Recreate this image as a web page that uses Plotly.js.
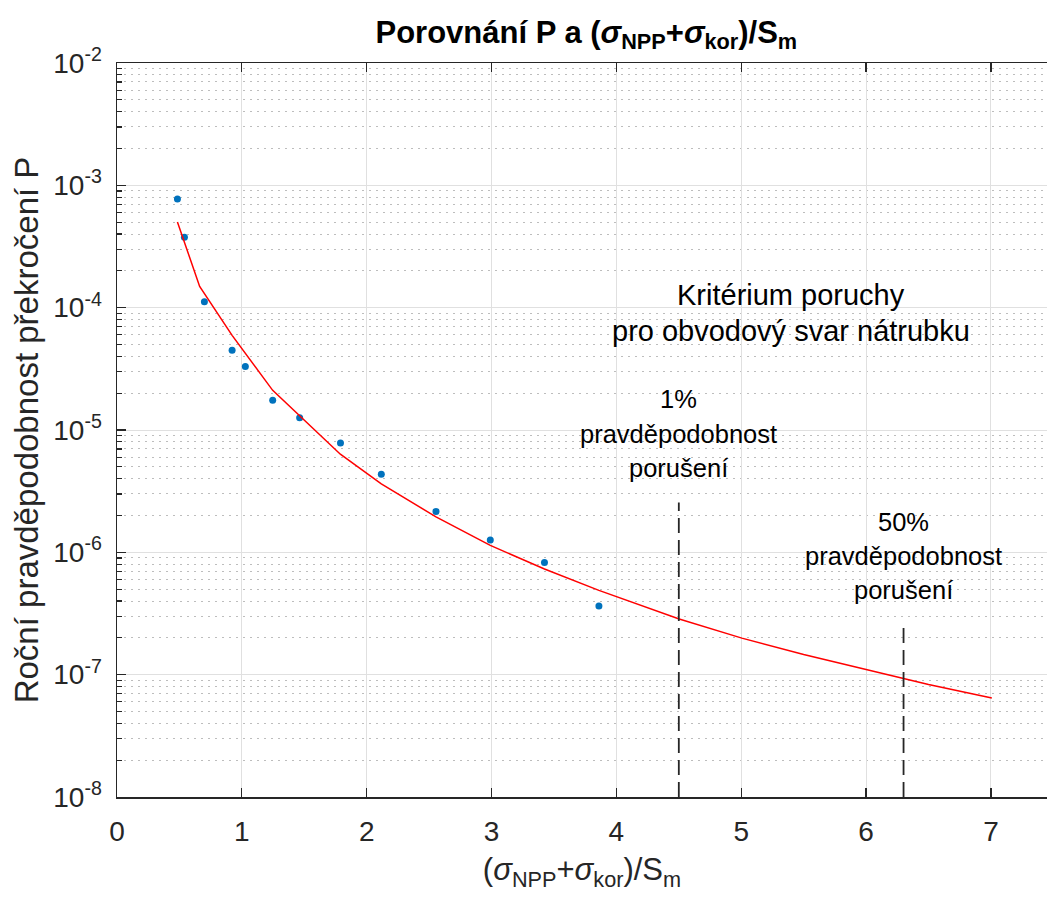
<!DOCTYPE html>
<html>
<head>
<meta charset="utf-8">
<script src="https://cdn.plot.ly/plotly-3.0.1.min.js"></script>
<style>html,body{margin:0;padding:0;background:#fff;}#chart{width:1047px;height:899px;}</style>
</head>
<body>
<div id="chart"></div>
<script>
// Data points (blue dots)
const pointX = [0.484, 0.540, 0.700, 0.922, 1.028, 1.247, 1.463, 1.790, 2.117, 2.555, 2.990, 3.424, 3.860];
const pointP = [7.74e-4, 3.76e-4, 1.12e-4, 4.48e-5, 3.30e-5, 1.75e-5, 1.26e-5, 7.83e-6, 4.34e-6, 2.16e-6, 1.26e-6, 8.26e-7, 3.64e-7];

// Fitted curve (red line)
const curveX = [0.484, 0.662, 0.922, 1.247, 1.789, 2.117, 2.555, 2.990, 3.424, 3.860, 4.503, 5.005, 5.5, 6.006, 6.30, 6.5, 7.007];
const curveP = [5.02e-4, 1.49e-4, 5.94e-5, 2.11e-5, 6.34e-6, 3.62e-6, 1.95e-6, 1.14e-6, 7.3e-7, 4.89e-7, 2.85e-7, 1.99e-7, 1.46e-7, 1.10e-7, 9.2e-8, 8.3e-8, 6.44e-8];

// Criterion lines
const crit1X = [4.5, 4.5];
const crit1P = [1e-8, 2.55e-6];
const crit2X = [6.3, 6.3];
const crit2P = [1e-8, 2.55e-7];

// Tick labels
const xTickVals = [0, 1, 2, 3, 4, 5, 6, 7];
const xTickText = ['0', '1', '2', '3', '4', '5', '6', '7'];
const yTickVals = [1e-8, 1e-7, 1e-6, 1e-5, 1e-4, 1e-3, 1e-2];
const yTickText = ['10<sup>-8</sup>', '10<sup>-7</sup>', '10<sup>-6</sup>', '10<sup>-5</sup>', '10<sup>-4</sup>', '10<sup>-3</sup>', '10<sup>-2</sup>'];

const FONT = 'Liberation Sans, Arial, Helvetica, sans-serif';
const AX = '#262626';

const traces = [
  {x: pointX, y: pointP, type: 'scatter', mode: 'markers',
   marker: {color: '#0072BD', size: 7}, hoverinfo: 'skip', showlegend: false},
  {x: curveX, y: curveP, type: 'scatter', mode: 'lines',
   line: {color: '#FF0000', width: 1.5}, hoverinfo: 'skip', showlegend: false},
  {x: crit1X, y: crit1P, type: 'scatter', mode: 'lines',
   line: {color: AX, width: 1.8, dash: '15px,7px'}, hoverinfo: 'skip', showlegend: false},
  {x: crit2X, y: crit2P, type: 'scatter', mode: 'lines',
   line: {color: AX, width: 1.8, dash: '15px,7px'}, hoverinfo: 'skip', showlegend: false}
];

function ann(x, ly, text, size) {
  return {x: x, y: ly, xref: 'x', yref: 'y', text: text, showarrow: false,
          xanchor: 'center', yanchor: 'middle',
          font: {family: FONT, size: size, color: '#000'}};
}
const lg = py => -2 - (py - 63.4) / 122.3;

const layout = {
  width: 1047, height: 899,
  margin: {l: 117, r: 0, t: 63, b: 102},
  paper_bgcolor: '#fff', plot_bgcolor: '#fff',
  font: {family: FONT, color: AX},
  title: {
    text: '<b>Porovnání P a (<i>σ</i><sub>NPP</sub>+<i>σ</i><sub>kor</sub>)/S<sub>m</sub></b>',
    font: {family: FONT, size: 31, color: '#000'},
    x: 0.560, xanchor: 'center', y: 1 - 32/899, yanchor: 'middle'
  },
  xaxis: {
    type: 'linear', range: [0, 7.449],
    tickvals: xTickVals, ticktext: xTickText,
    ticks: 'inside', ticklen: 9, tickwidth: 1.2, tickcolor: AX,
    showline: true, linecolor: AX, linewidth: 1.5, mirror: 'ticks',
    showgrid: true, gridcolor: '#e0e0e0', gridwidth: 1,
    zeroline: false,
    tickfont: {family: FONT, size: 28, color: AX},
    ticklabelstandoff: 9,
    title: {text: '(<i>σ</i><sub>NPP</sub>+<i>σ</i><sub>kor</sub>)/S<sub>m</sub>',
            font: {family: FONT, size: 31, color: AX}, standoff: 12}
  },
  yaxis: {
    type: 'log', range: [-8, -2],
    tickvals: yTickVals, ticktext: yTickText,
    ticks: 'inside', ticklen: 9, tickwidth: 1.2, tickcolor: AX,
    showline: true, linecolor: AX, linewidth: 1.5,
    showgrid: true, gridcolor: '#e0e0e0', gridwidth: 1,
    zeroline: false,
    minor: {dtick: 'D1', showgrid: true, gridcolor: '#bdbdbd', griddash: '1.5px,5.5px', gridwidth: 1,
            ticks: 'inside', ticklen: 5, tickcolor: AX},
    tickfont: {family: FONT, size: 28, color: AX},
    ticklabelstandoff: 8,
    title: {text: 'Roční pravděpodobnost překročení P',
            font: {family: FONT, size: 33, color: AX}, standoff: 5}
  },
  annotations: [
    ann(5.40, lg(295), 'Kritérium poruchy', 29),
    ann(5.40, lg(331), 'pro obvodový svar nátrubku', 29),
    ann(4.5, lg(399), '1%', 25.5),
    ann(4.5, lg(434), 'pravděpodobnost', 25.5),
    ann(4.5, lg(468), 'porušení', 25.5),
    ann(6.3, lg(522), '50%', 25.5),
    ann(6.3, lg(556), 'pravděpodobnost', 25.5),
    ann(6.3, lg(590), 'porušení', 25.5)
  ]
};

Plotly.newPlot('chart', traces, layout, {displayModeBar: false, staticPlot: true});
</script>
</body>
</html>
